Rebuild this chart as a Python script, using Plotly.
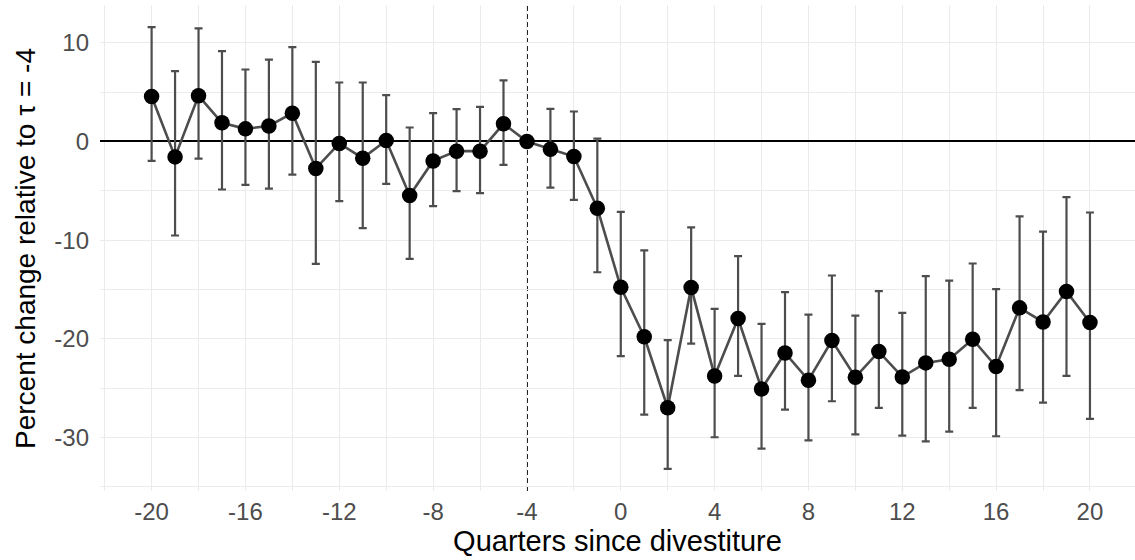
import plotly.graph_objects as go

quarters = list(range(-20, 21))
estimate = [4.56, -1.56, 4.63, 1.89, 1.28, 1.58, 2.87, -2.74, -0.2, -1.69, 0.1, -5.48,
            -1.97, -0.98, -0.98, 1.79, 0.0, -0.78, -1.52, -6.76,
            -14.78, -19.8, -27.0, -14.8, -23.77, -17.95, -25.09, -21.44, -24.2, -20.18,
            -23.9, -21.3, -23.87, -22.45, -22.08, -20.05, -22.82, -16.87, -18.3, -15.21, -18.36]
ci_upper = [11.6, 7.13, 11.46, 9.16, 7.3, 8.3, 9.56, 8.07, 5.98, 5.98, 4.7, 1.42,
            2.87, 3.28, 3.51, 6.19, None, 3.31, 3.04, 0.3,
            -7.13, -11.05, -20.15, -8.7, -16.97, -11.63, -18.5, -15.28, -17.55, -13.59,
            -17.65, -15.18, -17.38, -13.66, -14.1, -12.37, -14.98, -7.6, -9.13, -5.65, -7.2]
ci_lower = [-1.97, -9.53, -1.73, -4.87, -4.4, -4.77, -3.35, -12.41, -6.05, -8.79, -4.3, -11.9,
            -6.56, -5.04, -5.24, -2.37, None, -4.67, -5.92, -13.26,
            -21.77, -27.69, -33.2, -20.5, -29.99, -23.77, -31.14, -27.18, -30.3, -26.34,
            -29.69, -27.02, -29.82, -30.4, -29.41, -27.02, -29.89, -25.22, -26.47, -23.77, -28.13]
x_tickvals = [-20, -16, -12, -8, -4, 0, 4, 8, 12, 16, 20]
y_tickvals = [10, 0, -10, -20, -30]

err_plus = [None if u is None else u - e for u, e in zip(ci_upper, estimate)]
err_minus = [None if l is None else e - l for l, e in zip(ci_lower, estimate)]

FONT = "Liberation Sans, Arial, Helvetica, sans-serif"
GRID = "#ebebeb"
DARK = "#4d4d4d"

fig = go.Figure()
fig.add_trace(go.Scatter(
    x=quarters, y=estimate, mode="markers",
    marker=dict(size=1, color="rgba(0,0,0,0)"),
    error_y=dict(type="data", symmetric=False, array=err_plus, arrayminus=err_minus,
                 color=DARK, thickness=2.2, width=4),
    hoverinfo="skip", showlegend=False))
fig.add_trace(go.Scatter(
    x=quarters, y=estimate, mode="lines",
    line=dict(color=DARK, width=2.6), showlegend=False))
fig.add_trace(go.Scatter(
    x=quarters, y=estimate, mode="markers",
    marker=dict(size=15.5, color="black"), showlegend=False))

fig.add_shape(type="line", xref="x", x0=-4, x1=-4, yref="paper", y0=0, y1=1,
              line=dict(color="black", width=1.8, dash="5px,3px"), layer="between")

fig.add_annotation(text="Percent change relative to τ = -4", textangle=-90,
                   xref="paper", yref="paper", x=-0.0725, y=0.5,
                   xanchor="center", yanchor="middle", showarrow=False,
                   font=dict(size=28, color="black", family=FONT))

fig.update_layout(
    width=1135, height=560,
    margin=dict(l=100, r=0, t=5, b=69),
    paper_bgcolor="white", plot_bgcolor="white",
    font=dict(family=FONT),
    xaxis=dict(
        range=[-22.2, 21.92], tickmode="array", tickvals=x_tickvals,
        ticktext=[str(v) for v in x_tickvals],
        showgrid=True, gridcolor=GRID, gridwidth=1.4, zeroline=False,
        minor=dict(dtick=2, tick0=0, showgrid=True, gridcolor=GRID, gridwidth=1.4),
        ticks="", ticklabelstandoff=4,
        tickfont=dict(size=24, color=DARK, family=FONT),
        title=dict(text="Quarters since divestiture", font=dict(size=29, color="black", family=FONT),
                   standoff=3),
    ),
    yaxis=dict(
        range=[-35.44, 13.84], tickmode="array", tickvals=y_tickvals,
        ticktext=[str(v) for v in y_tickvals],
        showgrid=True, gridcolor=GRID, gridwidth=1.4,
        zeroline=True, zerolinecolor="black", zerolinewidth=1.8,
        minor=dict(dtick=5, tick0=0, showgrid=True, gridcolor=GRID, gridwidth=1.4),
        ticks="", ticklabelstandoff=10,
        tickfont=dict(size=24, color=DARK, family=FONT),
    ),
)

fig.write_html("out.html")
